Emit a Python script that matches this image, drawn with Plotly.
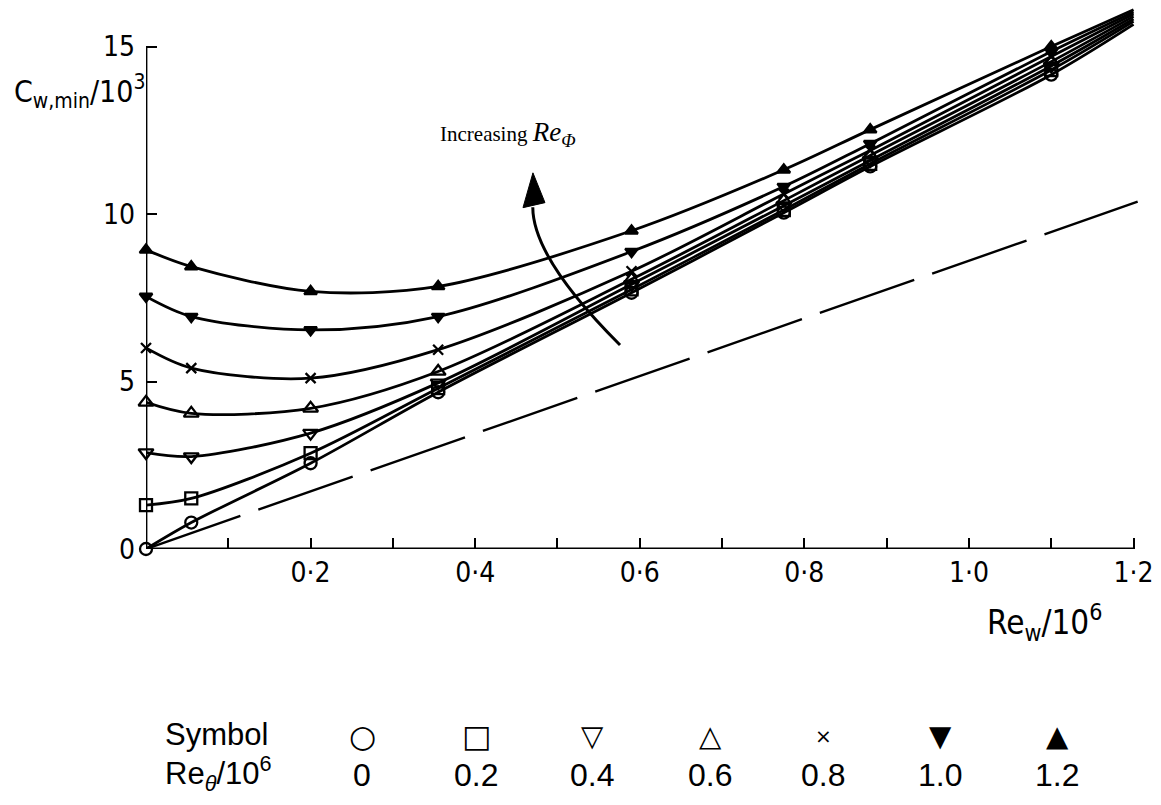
import plotly.graph_objects as go

# ---------------- data ----------------
RE_W = [0.0, 0.055, 0.2, 0.355, 0.59, 0.775, 0.88, 1.1]   # measured Re_w/1e6
RE_W_END = 1.2                                              # where the faired curves stop

RE_THETA_LABELS = ["0", "0.2", "0.4", "0.6", "0.8", "1.0", "1.2"]
CW_RT00 = [0.0, 0.79, 2.56, 4.68, 7.65, 10.04, 11.42, 14.16]
CW_RT02 = [1.31, 1.51, 2.86, 4.80, 7.75, 10.12, 11.50, 14.30]
CW_RT04 = [2.88, 2.76, 3.46, 4.96, 7.90, 10.25, 11.60, 14.42]
CW_RT06 = [4.38, 4.05, 4.20, 5.30, 8.05, 10.40, 11.75, 14.55]
CW_RT08 = [6.00, 5.40, 5.10, 5.95, 8.29, 10.60, 11.90, 14.70]
CW_RT10 = [7.54, 6.94, 6.54, 6.94, 8.88, 10.82, 12.10, 14.85]
CW_RT12 = [8.93, 8.43, 7.69, 7.84, 9.50, 11.32, 12.52, 15.00]
CW_END = [15.66, 15.75, 15.82, 15.90, 15.97, 16.03, 16.10]

# free-disc (dashed) reference line
DASH_X = [0.0, 1.205]
DASH_Y = [0.0, 10.37]

X_TICKS = [0.2, 0.4, 0.6, 0.8, 1.0, 1.2]
Y_TICKS = [0, 5, 10, 15]

# ---------------- layout constants ----------------
W, H = 1161, 805
ML, MR, MT, MB = 146, 11, 3, 256
X_RANGE = [0, 1.22]
Y_RANGE = [0, 16.3]
PW = W - ML - MR
PH = H - MT - MB


def pxx(p):
    return (p - ML) / PW


def pxy(p):
    return (H - MB - p) / PH


SYMBOLS = ["circle-open", "square-open", "triangle-down-open", "triangle-up-open",
           "x-thin-open", "triangle-down", "triangle-up"]
SIZES = [12, 12, 13, 13, 10, 11, 11]
LEGEND_GLYPHS = ["○", "□", "▽", "△", "×", "▼", "▲"]
LEGEND_GLYPH_SIZES = [31, 31, 29, 29, 20, 29, 29]
LEGEND_COLS = [362, 476, 592, 710, 823, 940, 1057]

series = [CW_RT00, CW_RT02, CW_RT04, CW_RT06, CW_RT08, CW_RT10, CW_RT12]

fig = go.Figure()

fig.add_trace(go.Scatter(x=DASH_X, y=DASH_Y, mode="lines",
                         line=dict(color="black", width=2.4, dash="100px,19px"),
                         hoverinfo="skip", showlegend=False))

for i, ys in enumerate(series):
    fig.add_trace(go.Scatter(
        x=RE_W + [RE_W_END], y=ys + [CW_END[i]], mode="lines",
        line=dict(color="black", width=2.8, shape="spline", smoothing=0.9),
        showlegend=False, hoverinfo="skip", cliponaxis=False))
    fig.add_trace(go.Scatter(
        x=RE_W, y=ys, mode="markers",
        marker=dict(symbol=SYMBOLS[i], size=SIZES[i], color="black",
                    line=dict(color="black", width=2.3)),
        showlegend=False, cliponaxis=False,
        name="Re_theta/1e6 = " + RE_THETA_LABELS[i]))

# axis spines (only up to the last tick)
fig.add_shape(type="line", xref="x", yref="y", x0=0, x1=0, y0=0, y1=Y_TICKS[-1],
              line=dict(color="black", width=2.8))
fig.add_shape(type="line", xref="x", yref="y", x0=0, x1=X_TICKS[-1], y0=0, y1=0,
              line=dict(color="black", width=2.8))

# curved arrow "Increasing Re_phi"
A0 = (0.576, 6.09)
AC = (0.470, 8.69)
A1 = (0.470, 10.20)
HEAD = [(0.4702, 11.23), (0.4581, 10.19), (0.4848, 10.34)]
fig.add_shape(type="path", xref="x", yref="y",
              path=f"M {A0[0]},{A0[1]} Q {AC[0]},{AC[1]} {A1[0]},{A1[1]}",
              line=dict(color="black", width=3))
fig.add_shape(type="path", xref="x", yref="y",
              path=f"M {HEAD[0][0]},{HEAD[0][1]} L {HEAD[1][0]},{HEAD[1][1]} L {HEAD[2][0]},{HEAD[2][1]} Z",
              fillcolor="black", line=dict(color="black", width=1))

TICK_FONT = dict(family="DejaVu Sans Condensed, Liberation Sans Narrow, DejaVu Sans, sans-serif",
                 size=28, color="black")
TITLE_FONT = "DejaVu Sans Condensed, DejaVu Sans, sans-serif"

fig.update_xaxes(range=X_RANGE, showline=False, showgrid=False, zeroline=False,
                 tickvals=X_TICKS, ticktext=[f"{v:.1f}".replace(".", "·") for v in X_TICKS],
                 ticks="inside", ticklen=11, tickwidth=2.2, tickcolor="black",
                 minor=dict(dtick=0.1, tick0=0, ticks="inside", ticklen=11, tickwidth=2.2,
                            tickcolor="black", showgrid=False),
                 tickfont=TICK_FONT, ticklabelstandoff=4)
fig.update_yaxes(range=Y_RANGE, showline=False, showgrid=False, zeroline=False,
                 tickvals=Y_TICKS, ticktext=[str(v) for v in Y_TICKS],
                 ticks="inside", ticklen=11, tickwidth=2.2, tickcolor="black",
                 tickfont=TICK_FONT, ticklabelstandoff=10)

ann = []
ann.append(dict(xref="paper", yref="paper", x=pxx(12), y=pxy(92), xanchor="left", yanchor="middle",
                text="C<sub>w,min</sub>/10<sup>3</sup>", showarrow=False,
                font=dict(family=TITLE_FONT, size=30, color="black")))
ann.append(dict(xref="paper", yref="paper", x=pxx(985), y=pxy(622), xanchor="left", yanchor="middle",
                text="Re<sub>w</sub>/10<sup>6</sup>", showarrow=False,
                font=dict(family=TITLE_FONT, size=33, color="black")))
ann.append(dict(xref="paper", yref="paper", x=pxx(438), y=pxy(134), xanchor="left", yanchor="middle",
                text="<span style='font-size:21px'>Increasing </span><i>Re</i><sub><i>Φ</i></sub>",
                showarrow=False,
                font=dict(family="Liberation Serif, Times New Roman, serif", size=27, color="black")))

LEG_FONT = "Liberation Sans, Arial, Helvetica, sans-serif"
ann.append(dict(xref="paper", yref="paper", x=pxx(163), y=pxy(734), xanchor="left", yanchor="middle",
                text="Symbol", showarrow=False, font=dict(family=LEG_FONT, size=31, color="black")))
ann.append(dict(xref="paper", yref="paper", x=pxx(163), y=pxy(774), xanchor="left", yanchor="middle",
                text="Re<sub><i>θ</i></sub>/10<sup>6</sup>", showarrow=False,
                font=dict(family=LEG_FONT, size=31, color="black")))
for g, gs, cx, lab in zip(LEGEND_GLYPHS, LEGEND_GLYPH_SIZES, LEGEND_COLS, RE_THETA_LABELS):
    ann.append(dict(xref="paper", yref="paper", x=pxx(cx), y=pxy(736), xanchor="center", yanchor="middle",
                    text=g, showarrow=False, font=dict(family="DejaVu Sans, sans-serif", size=gs, color="black")))
    ann.append(dict(xref="paper", yref="paper", x=pxx(cx), y=pxy(775), xanchor="center", yanchor="middle",
                    text=lab, showarrow=False, font=dict(family=LEG_FONT, size=32, color="black")))

fig.update_layout(width=W, height=H, margin=dict(l=ML, r=MR, t=MT, b=MB),
                  paper_bgcolor="white", plot_bgcolor="white",
                  showlegend=False, annotations=ann)

fig.write_html("out.html")
